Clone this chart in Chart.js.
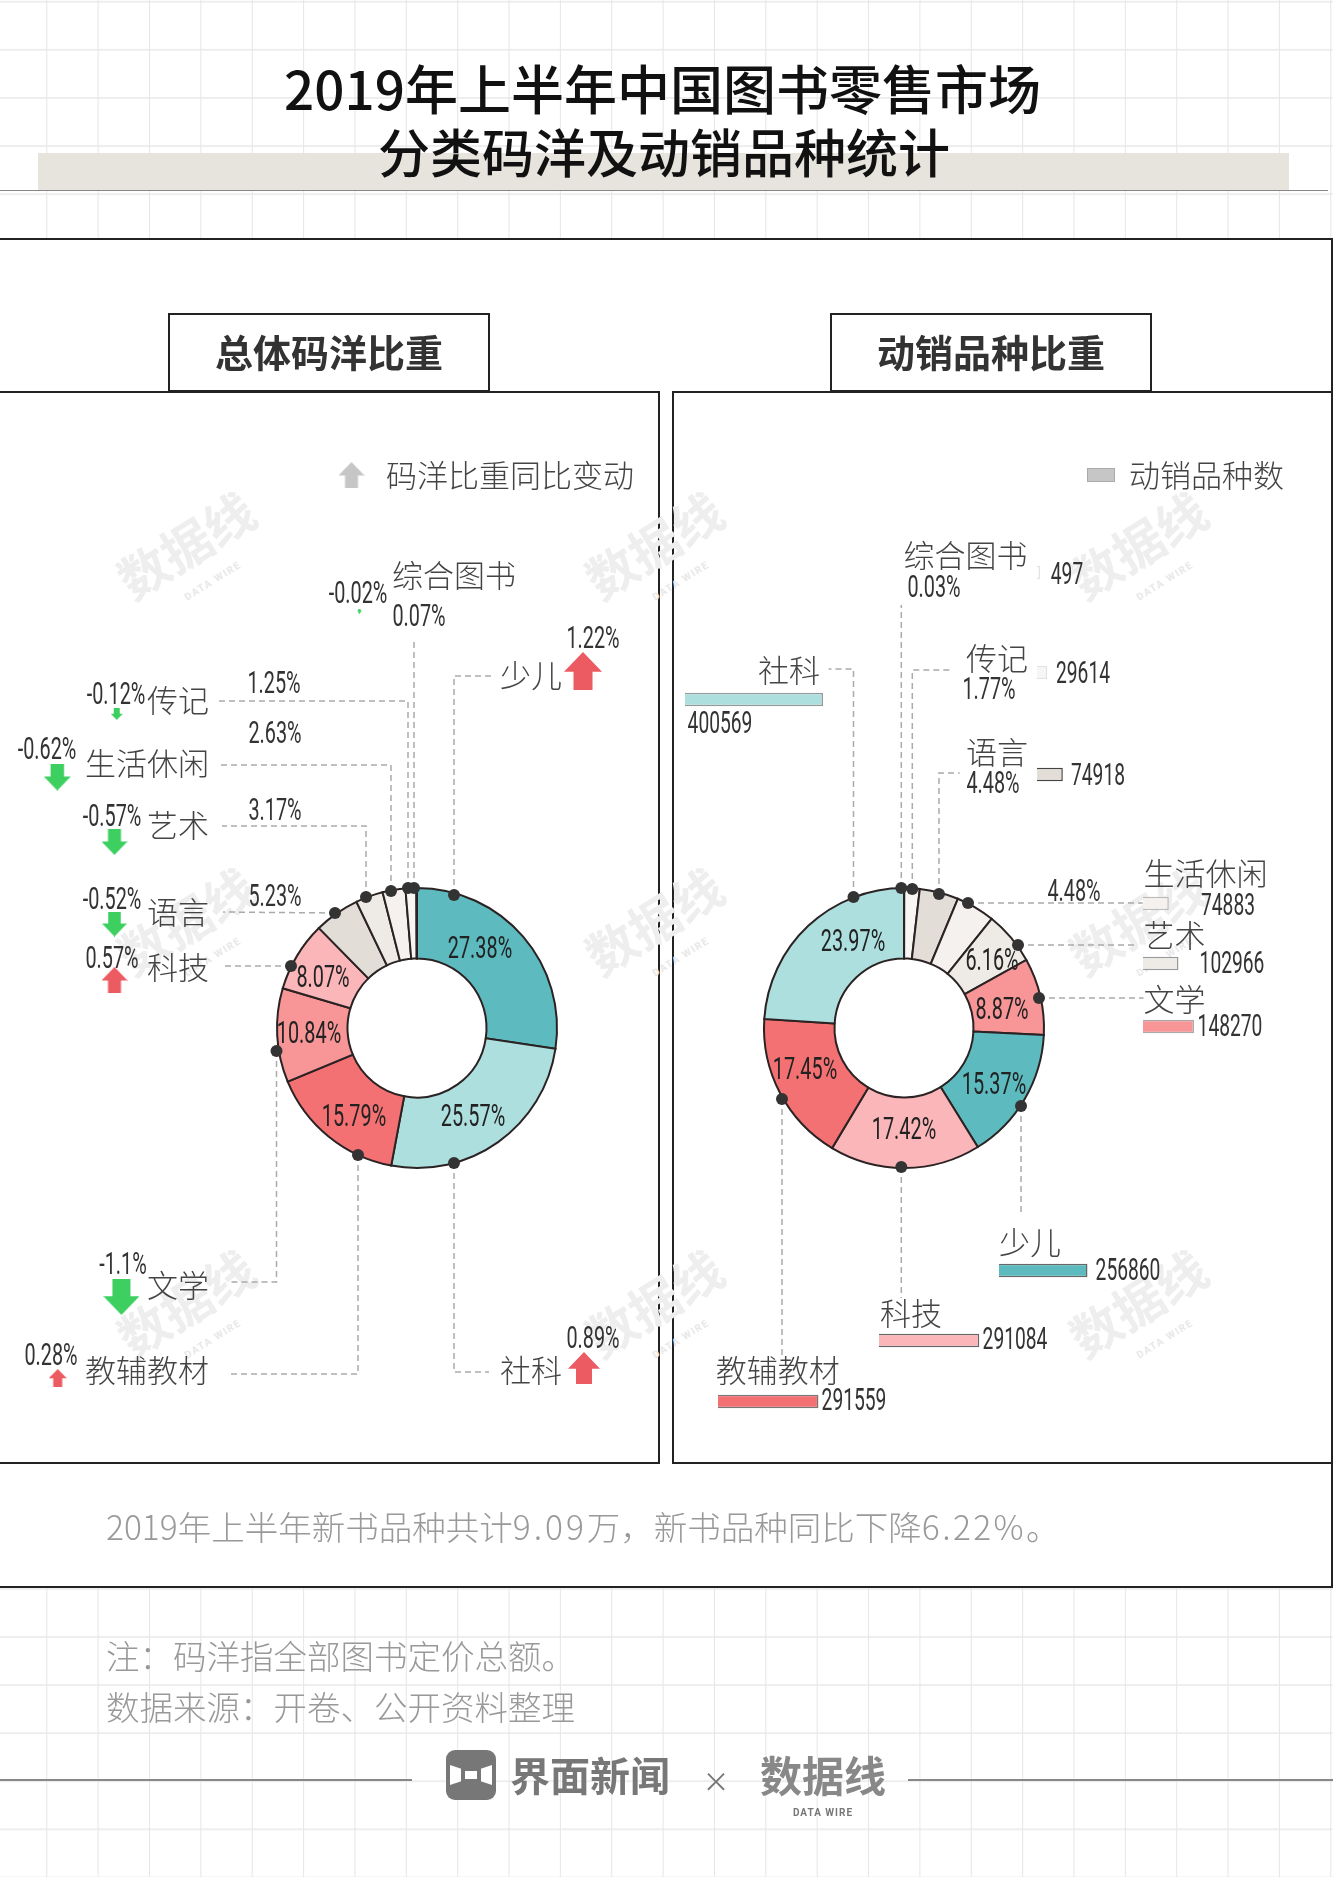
<!DOCTYPE html>
<html lang="zh"><head><meta charset="utf-8">
<script src="https://cdn.jsdelivr.net/npm/chart.js@4/dist/chart.umd.min.js"></script>
<style>
html,body{margin:0;padding:0;background:#fff}
#page{position:relative;width:1333px;height:1877px;overflow:hidden;font-family:"Noto Sans CJK SC","Noto Sans",sans-serif;
 background-color:#fff;
 background-image:linear-gradient(90deg,#e6e6e6 1px,transparent 1px),linear-gradient(180deg,#eeeeee 2px,transparent 2px);
 background-size:51.36px 100%,100% 48.1px;background-position:46.3px 0,0 0.8px}
.abs{position:absolute;box-sizing:border-box}
.t{position:absolute;white-space:nowrap;line-height:1;z-index:5}
canvas{position:absolute;z-index:2}
</style></head><body><div id="page"></div>
<script>
// ---------- data ----------
const shareCategories=["少儿","社科","教辅教材","文学","科技","语言","艺术","生活休闲","传记","综合图书"];
const shareValues=[27.38,25.57,15.79,10.84,8.07,5.23,3.17,2.63,1.25,0.07];
const shareChanges=[1.22,0.89,0.28,-1.1,0.57,-0.52,-0.57,-0.62,-0.12,-0.02];
const skuCategories=["综合图书","传记","语言","生活休闲","艺术","文学","少儿","科技","教辅教材","社科"];
const skuShares=[0.03,1.77,4.48,4.48,6.16,8.87,15.37,17.42,17.45,23.97];
const skuCounts=[497,29614,74918,74883,102966,148270,256860,291084,291559,400569];
// ---------- styles ----------
const catColor={"少儿":"#5DBBBF","社科":"#AEDFDF","教辅教材":"#F47173","文学":"#F79597","科技":"#FAB6B9","语言":"#E2DDD7","艺术":"#EEEBE6","生活休闲":"#F4F1EE","传记":"#F7F6F4","综合图书":"#FFFFFF"};
const barBorder={"少儿":"#666","社科":"#999","教辅教材":"#777","文学":"#aaa","科技":"#666","语言":"#444","艺术":"#999","生活休闲":"#bbb","传记":"#e2e2e2","综合图书":"#e2e2e2"};
const UP="#EC5A62",DOWN="#3DD060",INK="#444",NUM="#333";
const page=document.getElementById('page');
function box(x,y,w,h,css){const d=document.createElement('div');d.className='abs';d.style.cssText+=`left:${x}px;top:${y}px;width:${w}px;height:${h}px;${css||''}`;page.appendChild(d);return d;}
function T(s,x,y,o){o=o||{};const d=document.createElement('div');d.className='t';
 if(o.html)d.innerHTML=s;else d.textContent=s;
 const a=o.a||'l',sx=o.sx||1,ax={l:'0%',c:'-50%',r:'-100%'}[a],org={l:'left',c:'center',r:'right'}[a];
 const yy=o.raw?y:y-2;
 d.style.cssText+=`left:${x}px;top:${yy}px;font-size:${o.fs||31}px;color:${o.c||INK};font-weight:${o.w||300};`+
  (o.ff?`font-family:${o.ff};`:'')+(o.ls?`letter-spacing:${o.ls}px;`:'')+
  `transform-origin:${org} center;transform:translate(${ax},-50%) rotate(${o.r||0}deg) scaleX(${sx});`+(o.z?`z-index:${o.z};`:'');
 page.appendChild(d);return d;}
const NF='Roboto,sans-serif';
function N(s,x,y,a,c){return T(s,x,y,{raw:1,a:a||'c',fs:31,sx:/%/.test(s)?0.64:0.62,ff:NF,w:400,c:c||NUM});}
// ---------- frame ----------
box(38,153,1251,37,'background:#E7E3DD');
box(0,190,1328,1,'background:#888');
T("2019年上半年中国图书零售市场",662.5,89,{a:'c',fs:53,c:'#111',w:500});
T("分类码洋及动销品种统计",664,152.5,{a:'c',fs:52,c:'#111',w:500});
box(-3,238,1336,1350,'background:#fff;border:2px solid #222');
// ---------- watermarks ----------
[[185,545],[653,545],[1137,545],[185,921],[653,921],[1137,921],[185,1303],[653,1303],[1137,1303]].forEach(p=>{
 T("数据线",p[0],p[1],{a:'c',fs:50,c:'#eeeeee',w:700,r:-32,z:1});
 T("DATA WIRE",p[0]+28,p[1]+38,{a:'c',fs:10,c:'#e8e8e8',w:700,r:-32,ff:'Roboto',ls:1.5,z:1});
});
box(-3,391,663,1073,'border:2px solid #222');
box(672,391,663,1073,'border:2px solid #222');
box(167.5,313,322,80,'background:#fff;border:2px solid #222;border-bottom:3px solid #222');
box(830,313,322,80,'background:#fff;border:2px solid #222;border-bottom:3px solid #222');
T("总体码洋比重",329,353,{a:'c',fs:38,c:'#333',w:700});
T("动销品种比重",991,353,{a:'c',fs:38,c:'#333',w:700});
// ---------- legends ----------
T("码洋比重同比变动",386,475,{fs:31,ls:0});
T("动销品种数",1129,475,{fs:31});
box(1087,468,28,14,'background:#C6C6C6;border:1px solid #aaa');
// ---------- left labels ----------
T("综合图书",392,575);T("少儿",500,675);T("社科",500,1370);
[["传记",700],["生活休闲",763],["艺术",825],["语言",912],["科技",967],["文学",1285],["教辅教材",1370]].forEach(l=>T(l[0],209,l[1],{a:'r'}));
const shareTextPos={"传记":[274,682],"生活休闲":[275,732],"艺术":[275,809],"语言":[275,895],"综合图书":[419,615],
 "少儿":[480,947],"社科":[473,1115],"教辅教材":[354,1115],"文学":[309,1032],"科技":[323,976]};
shareCategories.forEach((c,i)=>N(shareValues[i]+"%",shareTextPos[c][0],shareTextPos[c][1],'c',i<5?'#222':NUM));
const changeTextPos={"综合图书":[358,592],"少儿":[593,637],"传记":[116,693],"生活休闲":[47,748],"艺术":[112,815],"语言":[112,898],"科技":[112,957],"文学":[123,1263],"教辅教材":[51,1354],"社科":[593,1337]};
shareCategories.forEach((c,i)=>N(shareChanges[i]+"%",changeTextPos[c][0],changeTextPos[c][1]));
// ---------- right labels ----------
const skuLabelPos={"综合图书":[903.4,555],"传记":[966,658],"语言":[966,752],"生活休闲":[1143.6,873],"艺术":[1143.6,935],"文学":[1143.6,999],"少儿":[999,1242],"科技":[880,1313],"教辅教材":[715.7,1370],"社科":[758,670]};
skuCategories.forEach(c=>T(c,skuLabelPos[c][0],skuLabelPos[c][1]));
const skuPctPos={"综合图书":[934,586],"传记":[989,688],"语言":[993,782],"生活休闲":[1074,890],"艺术":[992,959],"文学":[1002,1008],"少儿":[993.5,1083],"科技":[903.5,1128],"教辅教材":[805.4,1068],"社科":[853,940]};
skuCategories.forEach((c,i)=>N(skuShares[i]+"%",skuPctPos[c][0],skuPctPos[c][1],'c',i>=4?'#222':NUM));
const skuBarPos={"综合图书":[1036.6,572],"传记":[1036.6,672],"语言":[1036.6,774],"生活休闲":[1142.7,903],"艺术":[1142.7,963],"文学":[1142.7,1026],"少儿":[999,1270],"科技":[878.5,1340],"教辅教材":[717.8,1401],"社科":[685,699]};
const skuValPos={"综合图书":[1067,573],"传记":[1082.5,672],"语言":[1098,774],"生活休闲":[1228,904],"艺术":[1231.5,962],"文学":[1230,1025],"少儿":[1127.5,1269],"科技":[1015,1338],"教辅教材":[854,1399],"社科":[720,722]};
skuCategories.forEach((c,i)=>N(String(skuCounts[i]),skuValPos[c][0],skuValPos[c][1]));
// ---------- footer ----------
const wide=(s,l)=>`<span style="letter-spacing:${l}px">${s}</span>`;
T(`2019年上半年新书品种共计${wide("9.09",3)}万，新书品种同比下降${wide("6.22%",2.4)}。`,106,1528,{fs:33.5,c:'#999',html:1});
T("注：码洋指全部图书定价总额。",106,1657,{fs:33.5,c:'#999'});
T("数据来源：开卷、公开资料整理",106,1708,{fs:33.5,c:'#999'});
box(0,1779,412,1.5,'background:#888');box(908,1779,425,1.5,'background:#888');
const ic=box(446,1750,50,50,'background:#777;border-radius:9px;overflow:hidden');
ic.innerHTML='<svg width="50" height="50" viewBox="0 0 50 50"><path d="M4 15 L25 22 L46 15 L46 35 L25 28 L4 35 Z" fill="#fff"/><rect x="15" y="18" width="20" height="14" fill="#777"/><rect x="19" y="21" width="12" height="8" fill="#fff"/></svg>';
T("界面新闻",510,1776,{fs:40,c:'#777',w:700});
T("×",716,1782,{a:'c',fs:27,c:'#777',w:400});
T("数据线",823,1776,{a:'c',fs:42,c:'#888',w:700});
T("DATA WIRE",823,1813,{raw:1,a:'c',fs:10,c:'#777',w:700,ff:'Roboto',ls:1});
// ---------- doughnuts ----------
function donut(cx,cy,cats,vals){
 const c=document.createElement('canvas');c.width=300;c.height=300;c.style.cssText=`left:${cx-150}px;top:${cy-150}px;width:300px;height:300px`;page.appendChild(c);
 new Chart(c,{type:'doughnut',data:{labels:cats,datasets:[{data:vals,backgroundColor:cats.map(k=>catColor[k]),borderColor:'#2b2323',borderWidth:2,borderJoinStyle:'miter'}]},
  options:{responsive:false,animation:false,radius:140,cutout:74,rotation:0,plugins:{legend:{display:false},tooltip:{enabled:false}},layout:{padding:0}}});
}
donut(416.5,1028,shareCategories,shareValues);
donut(904,1028,skuCategories,skuCounts);
// ---------- count bars ----------
const BAR_W=138,maxCount=Math.max(...skuCounts);
skuCategories.forEach((k,i)=>{
 const p=skuBarPos[k];const c=document.createElement('canvas');c.width=BAR_W+2;c.height=15;
 c.style.cssText=`left:${p[0]}px;top:${p[1]-7.5}px;width:${BAR_W+2}px;height:15px`;page.appendChild(c);
 new Chart(c,{type:'bar',data:{labels:[k],datasets:[{data:[skuCounts[i]],backgroundColor:catColor[k],borderColor:barBorder[k],borderWidth:1.5,barPercentage:1,categoryPercentage:.9,minBarLength:3}]},
  options:{indexAxis:'y',responsive:false,animation:false,layout:{autoPadding:false,padding:{right:2}},plugins:{legend:{display:false},tooltip:{enabled:false}},
   scales:{x:{display:false,min:0,max:maxCount},y:{display:false}}}});
});
// ---------- leaders + arrows overlay (page-pixel scale) ----------
const leaders=[
 [[414,888],[414,638]],
 [[408,888],[408,701],[216,701]],
 [[391,891],[391,765],[220,765]],
 [[366,897],[366,826],[222,826]],
 [[335,913],[223,912]],
 [[291,966],[222,966]],
 [[276.5,1051],[276.5,1282],[231,1282]],
 [[358,1155],[358,1374],[229,1374]],
 [[454,1163],[454,1372],[489,1372]],
 [[454,895],[454,676],[494,676]],
 [[853.5,897],[853.5,669],[828.6,669]],
 [[901.3,888],[901.3,605]],
 [[912.3,889],[912.3,670],[953.3,670]],
 [[939,894],[939,773],[959.6,773]],
 [[968,903],[1142.7,903]],
 [[1018,945],[1137,945]],
 [[1039,998],[1143.6,998]],
 [[1021,1106],[1021,1215]],
 [[901.3,1167],[901.3,1298]],
 [[782,1099],[782,1357]]
];
const arrowPos={"综合图书":[359.4,611],"少儿":[583,671],"传记":[116.7,714],"生活休闲":[57.3,777],"艺术":[114.5,842],"语言":[114.5,924],"科技":[114.5,980],"文学":[121.4,1297],"教辅教材":[57.7,1378],"社科":[584,1368]};
function arrowImg(size,color,up){
 const s=Math.max(4,Math.round(size)),c=document.createElement('canvas');c.width=s;c.height=s;const g=c.getContext('2d');
 g.fillStyle=color;g.save();if(!up){g.translate(0,s);g.scale(1,-1);}
 g.beginPath();g.moveTo(s/2,0);g.lineTo(s,s*.52);g.lineTo(s*.75,s*.52);g.lineTo(s*.75,s);g.lineTo(s*.25,s);g.lineTo(s*.25,s*.52);g.lineTo(0,s*.52);g.closePath();g.fill();g.restore();return c;}
const overlay=document.createElement('canvas');overlay.width=1333;overlay.height=1877;overlay.style.cssText='left:0;top:0;width:1333px;height:1877px;z-index:3';page.appendChild(overlay);
new Chart(overlay,{type:'scatter',data:{datasets:[
 ...leaders.map(l=>({order:3,data:l.map(p=>({x:p[0],y:p[1]})),showLine:true,borderColor:'#aaaaaa',borderWidth:1.5,borderDash:[6,4],pointRadius:0,tension:0})),
 {order:1,data:leaders.map(l=>({x:l[0][0],y:l[0][1]})),pointRadius:6,pointBackgroundColor:'#333',pointBorderWidth:0,showLine:false},
 {order:1,data:shareCategories.map(k=>({x:arrowPos[k][0],y:arrowPos[k][1]})),showLine:false,
  pointStyle:shareChanges.map(v=>arrowImg(34.1*Math.sqrt(Math.abs(v)),v>=0?UP:DOWN,v>=0))},
 {order:1,data:[{x:351.5,y:475}],showLine:false,pointStyle:[arrowImg(26,'#C6C6C6',true)]}
]},options:{responsive:false,animation:false,layout:{padding:0,autoPadding:false},plugins:{legend:{display:false},tooltip:{enabled:false}},
 scales:{x:{type:'linear',display:false,min:0,max:1333},y:{type:'linear',display:false,min:0,max:1877,reverse:true}}}});
</script></body></html>
